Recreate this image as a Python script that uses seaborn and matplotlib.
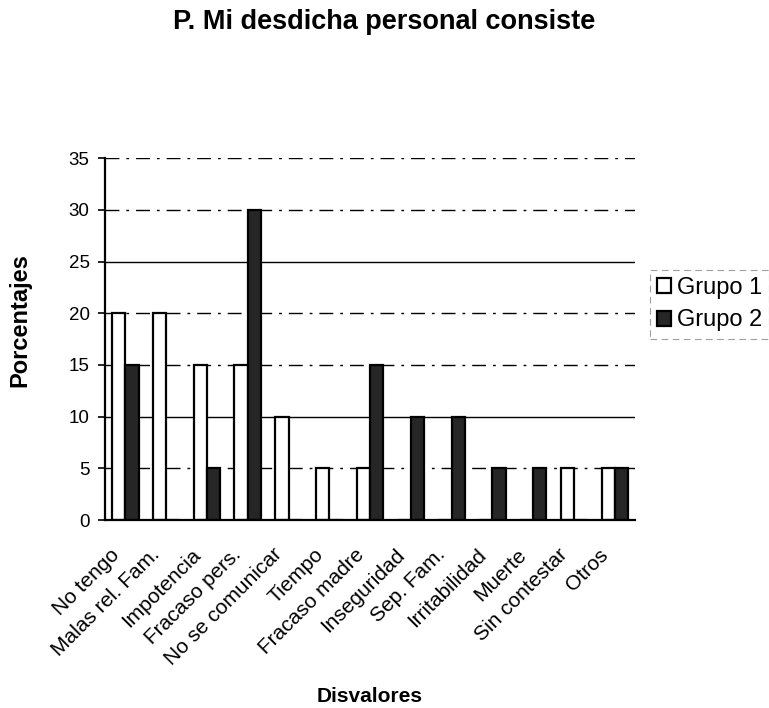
import numpy as np
import pandas as pd
import matplotlib
matplotlib.use("Agg")
import matplotlib.pyplot as plt
import matplotlib.transforms as mtransforms
import seaborn as sns

# Data
categorias = [
    "No tengo", "Malas rel. Fam.", "Impotencia", "Fracaso pers.",
    "No se comunicar", "Tiempo", "Fracaso madre", "Inseguridad",
    "Sep. Fam.", "Irritabilidad", "Muerte", "Sin contestar", "Otros",
]
grupo1 = [20, 20, 15, 15, 10, 5, 5, 0, 0, 0, 0, 5, 5]
grupo2 = [15, 0, 5, 30, 0, 0, 15, 10, 10, 5, 5, 0, 5]
grupos = ["Grupo 1", "Grupo 2"]
y_ticks = [0, 5, 10, 15, 20, 25, 30, 35]

df = pd.DataFrame({
    "Disvalor": categorias * 2,
    "Porcentaje": grupo1 + grupo2,
    "Grupo": [grupos[0]] * len(categorias) + [grupos[1]] * len(categorias),
})

sns.set_style("white")
plt.rcParams["font.family"] = ["Liberation Sans", "DejaVu Sans"]
plt.rcParams.update({
    "text.color": "black", "axes.labelcolor": "black",
    "xtick.color": "black", "ytick.color": "black",
})

fig = plt.figure(figsize=(7.69, 7.08), dpi=100)
ax = fig.add_axes([0.1365, 0.2655, 0.6895, 0.511])

# gridlines (behind bars)
for v in y_ticks[1:]:
    if v in (10, 25):
        ax.axhline(v, color="black", lw=1.0, zorder=0)
    else:
        ax.axhline(v, color="black", lw=1.0, ls=(0, (10, 5, 2, 5)), zorder=0)

sns.barplot(
    data=df, x="Disvalor", y="Porcentaje", hue="Grupo",
    palette={"Grupo 1": "white", "Grupo 2": "#262626"},
    edgecolor="black", linewidth=1.6, width=0.65, gap=0,
    ax=ax, zorder=2,
)

ax.set_ylim(0, 35)
ax.set_xlim(-0.5, len(categorias) - 0.5)
ax.set_yticks(y_ticks)
ax.set_yticklabels([str(v) for v in y_ticks], fontsize=13.5)
ax.set_xticks(np.arange(len(categorias)))
ax.set_xticklabels(categorias, rotation=45, ha="right", rotation_mode="anchor", fontsize=15)
ax.set_xticks(np.arange(-0.5, len(categorias), 1), minor=True)
ax.tick_params(axis="x", which="major", length=0, pad=10)
ax.tick_params(axis="x", which="minor", length=5, width=1.2, direction="out")
ax.tick_params(axis="y", length=5, width=1.2, direction="out", pad=6, left=True)

# nudge the rotated labels left/down like the original
shift = mtransforms.ScaledTranslation(-0.16, -0.11, fig.dpi_scale_trans)
for lab in ax.get_xticklabels():
    lab.set_transform(lab.get_transform() + shift)

for s in ["top", "right"]:
    ax.spines[s].set_visible(False)
for s in ["left", "bottom"]:
    ax.spines[s].set_color("black")
    ax.spines[s].set_linewidth(1.6)

ax.set_xlabel("Disvalores", fontsize=15, fontweight="bold", va="center")
ax.xaxis.set_label_coords(0.5, -0.4887)
ax.set_ylabel("Porcentajes", fontsize=17, fontweight="bold", va="center")
ax.yaxis.set_label_coords(-0.16, 0.553)
fig.text(0.5, 0.969, "P. Mi desdicha personal consiste", ha="center", va="center",
         fontsize=19.5, fontweight="bold")

handles, labels = ax.get_legend_handles_labels()
leg = ax.legend(
    handles, labels, loc="upper left", bbox_to_anchor=(0.845, 0.619),
    bbox_transform=fig.transFigure, fontsize=17, frameon=True,
    edgecolor="#888888", fancybox=False, handlelength=0.6, handleheight=0.6,
    handletextpad=0.25, borderpad=0.3, labelspacing=0.45, borderaxespad=0,
)
leg.get_frame().set_linewidth(0.8)
leg.get_frame().set_linestyle((0, (6, 4)))

fig.savefig("out.png", dpi=100)
